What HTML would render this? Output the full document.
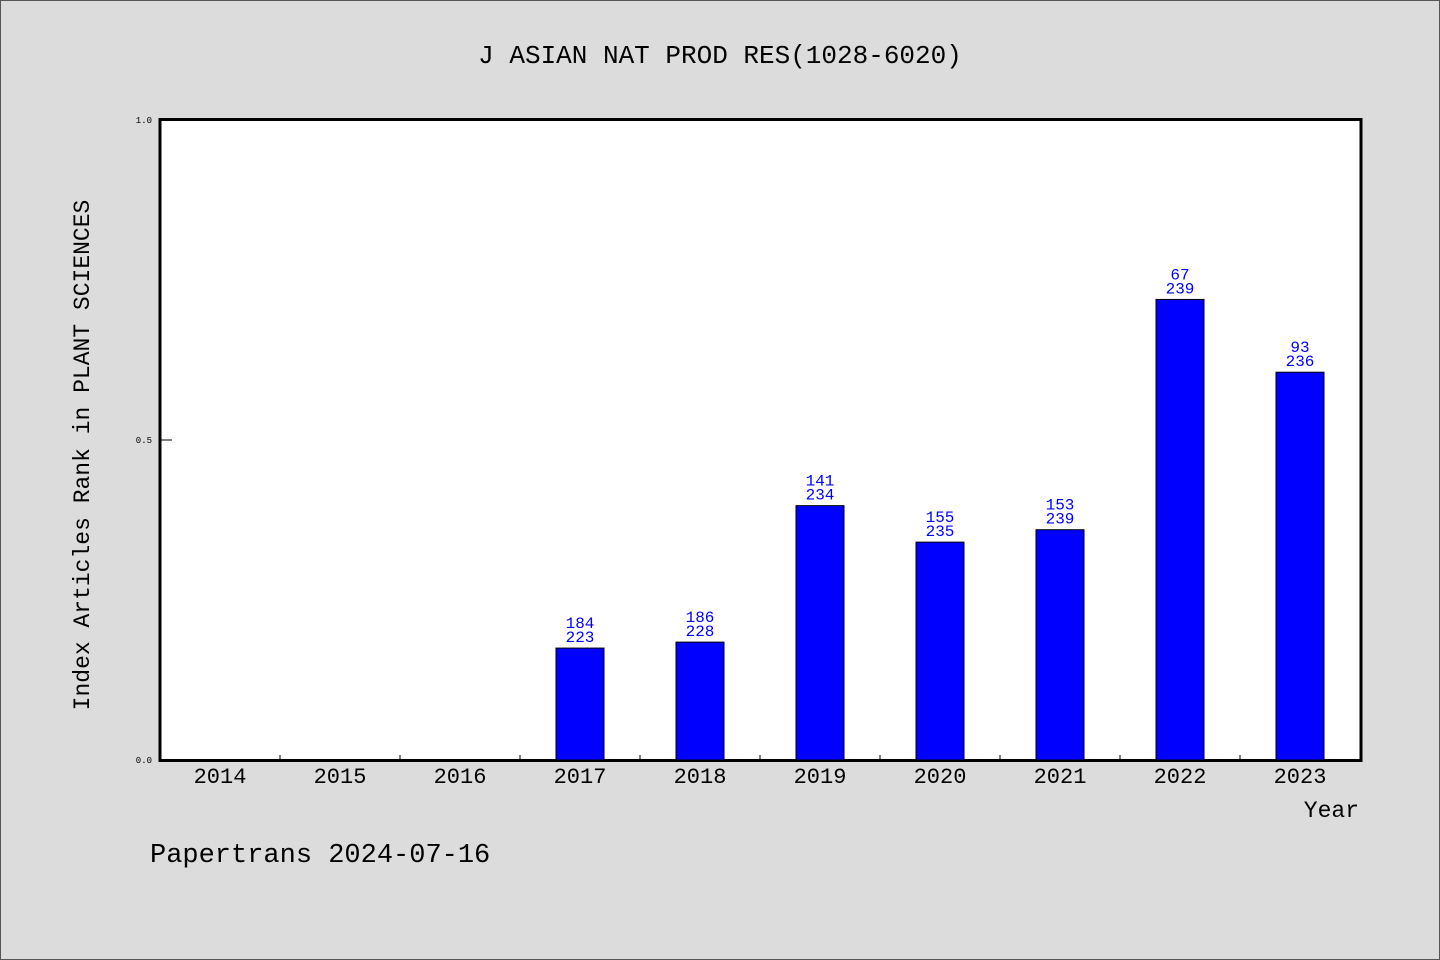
<!DOCTYPE html>
<html><head><meta charset="utf-8"><style>
html,body{margin:0;padding:0;background:#dcdcdc;}
svg{display:block;font-family:"Liberation Mono","Noto Sans CJK SC",monospace;}
</style></head><body>
<svg id="chart" width="1440" height="960" viewBox="0 0 1440 960">
<rect x="0.5" y="0.5" width="1439" height="959" fill="#dcdcdc" stroke="#555"/>
<text x="720" y="63" text-anchor="middle" font-size="26">J ASIAN NAT PROD RES(1028-6020)</text>
<rect x="160" y="119.5" width="1201" height="641" fill="#fff" stroke="#000" stroke-width="3"/>
<text transform="translate(89,455) rotate(-90)" text-anchor="middle" font-size="23">Index Articles Rank in PLANT SCIENCES</text>
<text x="1359" y="817" text-anchor="end" font-size="23">Year</text>
<text x="150" y="862" font-size="27">Papertrans 2024-07-16</text>
<g id="marks"></g>
</svg>
<script>
const years = ["2014","2015","2016","2017","2018","2019","2020","2021","2022","2023"];
const ranks = [null,null,null,184,186,141,155,153,67,93];
const totals = [null,null,null,223,228,234,235,239,239,236];
const yTicks = [0,0.5,1];
const yTickLabels = ["0.0","0.5","1.0"];

const NS="http://www.w3.org/2000/svg";
const g=document.getElementById('marks');
const plotLeft=160, plotRight=1360, plotTop=120, plotBottom=760;
const band=(plotRight-plotLeft)/years.length;
function xc(i){return plotLeft+band*(i+0.5);}
function yPos(v){return plotBottom-(plotBottom-plotTop)*v;}
function mk(t,a){const e=document.createElementNS(NS,t);for(const k in a)e.setAttribute(k,a[k]);g.appendChild(e);return e;}

yTicks.forEach((v,i)=>{
  const l=mk('line',{x1:plotLeft,x2:plotLeft+12,y1:yPos(v),y2:yPos(v),stroke:'#000','stroke-width':1});
  
  
  const t=mk('text',{x:152,y:yPos(v)+3,'text-anchor':'end','font-size':9});
  t.textContent=yTickLabels[i];
  
  
});
years.forEach((yr,i)=>{
  if(i>0){
    const tk=mk('line',{x1:plotLeft+band*i,x2:plotLeft+band*i,y1:plotBottom-5,y2:plotBottom,stroke:'#000'});
    
    
  }
  const t=mk('text',{x:xc(i),y:783,'text-anchor':'middle','font-size':22});
  t.textContent=yr;
  
  
  if(ranks[i]==null)return;
  const v=1-ranks[i]/totals[i];
  const b=mk('rect',{x:xc(i)-24,y:yPos(v),width:48,height:plotBottom-yPos(v),fill:'#0000ff',stroke:'#000','stroke-width':1});
  
  
  const r=mk('text',{x:xc(i),y:yPos(v)-20,'text-anchor':'middle','font-size':16,fill:'#0000ff'});
  r.textContent=ranks[i];
  
  
  const tt=mk('text',{x:xc(i),y:yPos(v)-6,'text-anchor':'middle','font-size':16,fill:'#0000ff'});
  tt.textContent=totals[i];
  
  
});
</script>
</body></html>
